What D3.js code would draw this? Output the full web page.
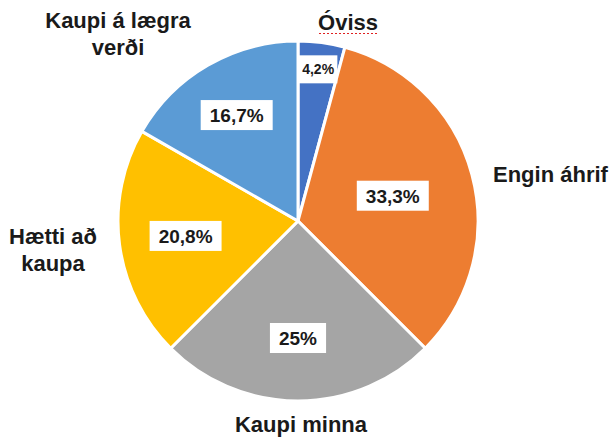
<!DOCTYPE html>
<html>
<head>
<meta charset="utf-8">
<script src="https://cdn.jsdelivr.net/npm/d3@7"></script>
<style>
  body { margin: 0; background: #fff; }
  svg text { font-family: "Liberation Sans", Arial, sans-serif; font-weight: bold; fill: #1a1a1a; }
</style>
</head>
<body>
<svg id="chart" width="609" height="437"></svg>
<script>
// slices clockwise from 12 o'clock
const categories = ['Óviss', 'Engin áhrif', 'Kaupi minna', 'Hætti að kaupa', 'Kaupi á lægra verði'];
const values = [4.2, 33.3, 25, 20.8, 16.7];
const valueLabels = ['4,2%', '33,3%', '25%', '20,8%', '16,7%'];
const colors = ['#4472C4', '#ED7D31', '#A5A5A5', '#FFC000', '#5B9BD5'];

const svg = d3.select('#chart');
const cx = 298, cy = 221, radius = 180;

const data = categories.map((c, i) => ({ name: c, value: values[i], label: valueLabels[i], color: colors[i] }));

const pie = d3.pie().sort(null).value(d => d.value);
const arc = d3.arc().innerRadius(0).outerRadius(radius);

const g = svg.append('g').attr('transform', `translate(${cx},${cy})`);

const arcs = pie(data);

g.selectAll('path.slice')
  .data(arcs)
  .join('path')
    .attr('class', 'slice')
    .attr('d', arc)
    .attr('fill', d => d.data.color)
    .attr('stroke', '#fff')
    .attr('stroke-width', 3)
    .attr('stroke-linejoin', 'round');

// value boxes, placed at a per-slice fraction of the radius
const labelRadius = [0.85, 0.545, 0.65, 0.63, 0.68];
const labelArc = i => d3.arc().innerRadius(radius * labelRadius[i]).outerRadius(radius * labelRadius[i]);

const vl = g.selectAll('g.vlabel')
  .data(arcs)
  .join('g')
    .attr('class', 'vlabel')
    .attr('transform', (d, i) => `translate(${labelArc(i).centroid(d)})`);

vl.append('text')
  .attr('text-anchor', 'middle')
  .attr('dy', '0.36em')
  .attr('font-size', (d, i) => i === 0 ? 14 : 19)
  .text(d => d.data.label);

vl.each(function(d, i) {
  const grp = d3.select(this);
  const bb = grp.select('text').node().getBBox();
  const w = bb.width + (i === 0 ? 6 : 18);
  const h = i === 0 ? 28 : 30;
  grp.insert('rect', 'text')
    .attr('x', -w / 2)
    .attr('y', -h / 2)
    .attr('width', w)
    .attr('height', h)
    .attr('fill', '#fff');
});

// category labels outside the pie
const outside = [
  { lines: ['Óviss'], x: 348, y: 30, anchor: 'middle' },
  { lines: ['Engin áhrif'], x: 493, y: 182, anchor: 'start' },
  { lines: ['Kaupi minna'], x: 301, y: 432, anchor: 'middle' },
  { lines: ['Hætti að', 'kaupa'], x: 53, y: 244, anchor: 'middle' },
  { lines: ['Kaupi á lægra', 'verði'], x: 118, y: 28, anchor: 'middle' }
];

outside.forEach(o => {
  const t = svg.append('text')
    .attr('x', o.x)
    .attr('y', o.y)
    .attr('text-anchor', o.anchor)
    .attr('font-size', 22);
  o.lines.forEach((line, j) => {
    t.append('tspan')
      .attr('x', o.x)
      .attr('dy', j === 0 ? 0 : 27)
      .text(line);
  });
});

// spell-check squiggle under "Óviss"
svg.append('line')
  .attr('x1', 319).attr('x2', 377)
  .attr('y1', 33.5).attr('y2', 33.5)
  .attr('stroke', '#e02020')
  .attr('stroke-width', 1)
  .attr('stroke-dasharray', '2,2')
  .attr('shape-rendering', 'crispEdges');
</script>
</body>
</html>
